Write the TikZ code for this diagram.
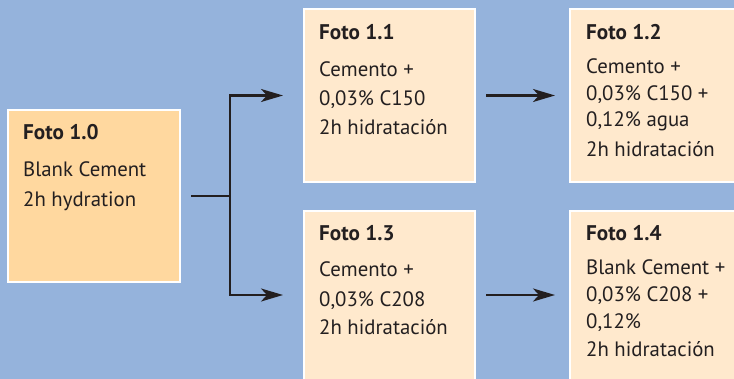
\documentclass[tikz,border=0pt]{standalone}
\usepackage{fontspec}
\setmainfont{PT Sans}
\usetikzlibrary{arrows.meta}
\definecolor{bgblue}{HTML}{95B3DC}
\definecolor{boxmain}{HTML}{FFD89F}
\definecolor{boxlight}{HTML}{FFE9CD}
\definecolor{ink}{HTML}{231F20}
\tikzset{
  box/.style={draw=white, line width=2pt, outer sep=0pt, inner sep=0pt, anchor=north west},
  ttl/.style={anchor=base west, inner sep=0pt, font=\fontsize{21.2}{25}\selectfont\bfseries, text=ink},
  txt/.style={anchor=base west, inner sep=0pt, font=\fontsize{20.8}{25}\selectfont, text=ink},
  conn/.style={draw=ink, line width=2.4pt},
  arr/.style={conn, -{Stealth[length=22pt, width=13pt, inset=6pt]}}
}
\begin{document}
\begin{tikzpicture}[x=1pt, y=-1pt]
\useasboundingbox (0,0) rectangle (734,379);
\fill[bgblue] (0,0) rectangle (734,379);
\clip (0,0) rectangle (734,379);
% boxes
\node[box, fill=boxmain, minimum width=172, minimum height=172] (b10) at (8,110) {};
\node[box, fill=boxlight, minimum width=171, minimum height=173] (b11) at (304,9) {};
\node[box, fill=boxlight, minimum width=180, minimum height=173] (b12) at (570,9) {};
\node[box, fill=boxlight, minimum width=171, minimum height=178] (b13) at (304,211) {};
\node[box, fill=boxlight, minimum width=180, minimum height=178] (b14) at (570,211) {};
% texts
\node[ttl] (t10) at (23,140) {Foto 1.0};
\node[txt] (t10a) at (23,177) {Blank Cement};
\node[txt] (t10b) at (23,207) {2h hydration};
\node[ttl] (t11) at (319,40) {Foto 1.1};
\node[txt] (t11a) at (319,77) {Cemento +};
\node[txt] (t11b) at (319,106) {0,03\% C150};
\node[txt] (t11c) at (319,135) {2h hidratación};
\node[ttl] (t12) at (586,40) {Foto 1.2};
\node[txt] (t12a) at (586,74) {Cemento +};
\node[txt] (t12b) at (586,100.5) {0,03\% C150 +};
\node[txt] (t12c) at (586,126.5) {0,12\% agua};
\node[txt] (t12d) at (586,156.5) {2h hidratación};
\node[ttl] (t13) at (319,241) {Foto 1.3};
\node[txt] (t13a) at (319,277) {Cemento +};
\node[txt] (t13b) at (319,306.5) {0,03\% C208};
\node[txt] (t13c) at (319,335) {2h hidratación};
\node[ttl] (t14) at (586,241) {Foto 1.4};
\node[txt] (t14a) at (586,275) {Blank Cement +};
\node[txt] (t14b) at (586,301.5) {0,03\% C208 +};
\node[txt] (t14c) at (586,328.5) {0,12\%};
\node[txt] (t14d) at (586,357) {2h hidratación};
% connectors
\coordinate (j) at ([xshift=50pt]b10.east);
\draw[conn, shorten <=11pt] (b10.east) -- (j);
\draw[arr, shorten >=21pt] (j) |- (b11.west);
\draw[arr, shorten >=21pt] (j) |- ([yshift=5pt]b13.west);
\draw[arr, shorten <=11pt, shorten >=15pt] (b11.east) -- (b12.west);
\draw[arr, shorten <=11pt, shorten >=15pt] ([yshift=5pt]b13.east) -- ([yshift=5pt]b14.west);
\end{tikzpicture}
\end{document}
